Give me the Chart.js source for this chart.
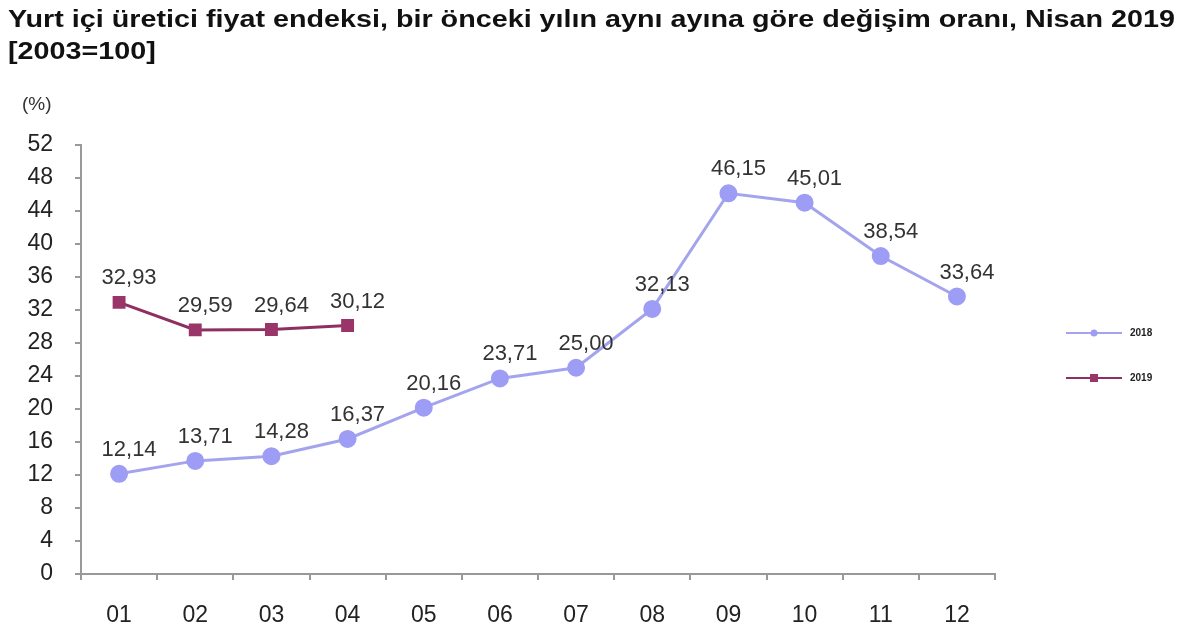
<!DOCTYPE html>
<html>
<head>
<meta charset="utf-8">
<script src="https://cdn.jsdelivr.net/npm/chart.js@4.4.1/dist/chart.umd.min.js"></script>
<style>
  html, body { margin: 0; padding: 0; background: #fff; }
  #wrap { width: 1200px; height: 640px; position: relative; }
</style>
</head>
<body>
<div id="wrap"><canvas id="c" width="1200" height="640"></canvas></div>
<script>
const titleLines = ['Yurt içi üretici fiyat endeksi, bir önceki yılın aynı ayına göre değişim oranı, Nisan 2019', '[2003=100]'];
const unitLabel = '(%)';
const months = ['01','02','03','04','05','06','07','08','09','10','11','12'];
const series2018 = [12.14, 13.71, 14.28, 16.37, 20.16, 23.71, 25.00, 32.13, 46.15, 45.01, 38.54, 33.64];
const series2019 = [32.93, 29.59, 29.64, 30.12, null, null, null, null, null, null, null, null];
const seriesNames = ['2018', '2019'];
const yMin = 0, yMax = 52, yStep = 4;

const FONT = "'Liberation Sans', Arial, sans-serif";

const decor = {
  id: 'decor',
  afterDraw(chart) {
    const ctx = chart.ctx;
    ctx.save();
    // title (horizontally stretched like the reference)
    ctx.fillStyle = '#111';
    ctx.font = 'bold 23px ' + FONT;
    ctx.textAlign = 'left';
    ctx.textBaseline = 'alphabetic';
    const w = ctx.measureText(titleLines[0]).width;
    const sx = 1167 / w;
    ctx.save();
    ctx.translate(8, 0);
    ctx.scale(sx, 1);
    ctx.fillText(titleLines[0], 0, 27);
    ctx.fillText(titleLines[1], 0, 59);
    ctx.restore();
    // unit
    ctx.fillStyle = '#333';
    ctx.font = '19px ' + FONT;
    ctx.fillText(unitLabel, 22, 110);
    // data labels
    ctx.font = '22px ' + FONT;
    ctx.fillStyle = '#333';
    ctx.textAlign = 'center';
    ctx.textBaseline = 'middle';
    chart.data.datasets.forEach((ds, di) => {
      const meta = chart.getDatasetMeta(di);
      meta.data.forEach((pt, i) => {
        const v = ds.data[i];
        if (v === null || v === undefined) return;
        ctx.fillText(v.toFixed(2).replace('.', ','), pt.x + 10, pt.y - 24);
      });
    });
    // legend
    const lx0 = 1066, lx1 = 1122, tx = 1130;
    const ly = [333, 378];
    chart.data.datasets.forEach((ds, di) => {
      const y = ly[di];
      ctx.strokeStyle = ds.borderColor;
      ctx.lineWidth = 2;
      ctx.beginPath(); ctx.moveTo(lx0, y); ctx.lineTo(lx1, y); ctx.stroke();
      ctx.fillStyle = ds.pointBackgroundColor;
      const mx = (lx0 + lx1) / 2;
      if (ds.pointStyle === 'rect') {
        ctx.fillRect(mx - 4, y - 4, 8, 8);
      } else {
        ctx.beginPath(); ctx.arc(mx, y, 3.5, 0, Math.PI * 2); ctx.fill();
      }
      ctx.fillStyle = '#222';
      ctx.font = 'bold 10px ' + FONT;
      ctx.textAlign = 'left';
      ctx.textBaseline = 'middle';
      ctx.fillText(ds.label, tx, y);
    });
    ctx.restore();
  }
};

new Chart(document.getElementById('c'), {
  type: 'line',
  data: {
    labels: months,
    datasets: [
      {
        label: seriesNames[0],
        data: series2018,
        borderColor: '#a4a4ee',
        backgroundColor: '#9d9df5',
        pointBackgroundColor: '#9d9df5',
        pointBorderColor: '#9d9df5',
        borderWidth: 3,
        pointStyle: 'circle',
        pointRadius: 7.5,
        tension: 0,
        spanGaps: false
      },
      {
        label: seriesNames[1],
        data: series2019,
        borderColor: '#8e2f60',
        backgroundColor: '#9a3569',
        pointBackgroundColor: '#9a3569',
        pointBorderColor: '#9a3569',
        borderWidth: 3,
        pointStyle: 'rect',
        pointRadius: 7,
        tension: 0,
        spanGaps: false
      }
    ]
  },
  options: {
    responsive: false,
    animation: false,
    devicePixelRatio: 1,
    layout: { padding: { left: 0, right: 205, top: 145, bottom: 0 } },
    plugins: {
      legend: { display: false },
      title: { display: false },
      tooltip: { enabled: false }
    },
    scales: {
      x: {
        offset: true,
        grid: { offset: true, drawOnChartArea: false, drawTicks: true, tickLength: 6, color: '#999', lineWidth: 2 },
        border: { display: true, color: '#999', width: 2 },
        ticks: { color: '#222', font: { family: FONT, size: 23 }, padding: 22, maxRotation: 0 },
        afterFit(scale) { scale.height = 66; }
      },
      y: {
        min: yMin, max: yMax,
        grid: { drawOnChartArea: false, drawTicks: true, tickLength: 6, color: '#999', lineWidth: 2 },
        border: { display: true, color: '#999', width: 2 },
        ticks: { stepSize: yStep, color: '#222', font: { family: FONT, size: 23 }, padding: 22 },
        afterFit(scale) { scale.width = 81; }
      }
    }
  },
  plugins: [decor]
});
</script>
</body>
</html>
